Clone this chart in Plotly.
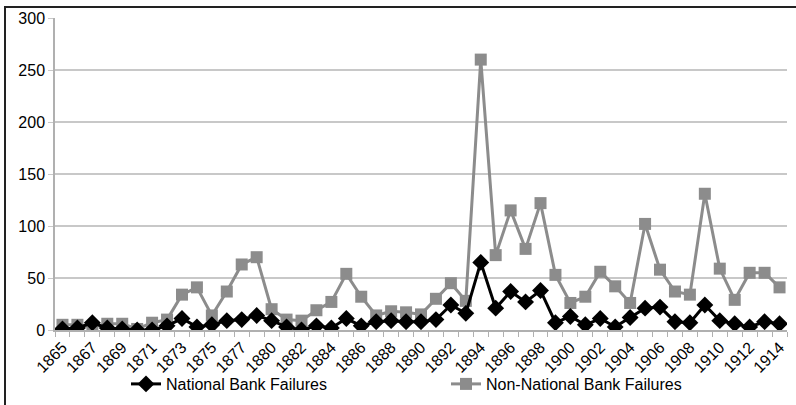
import plotly.graph_objects as go

years = [str(y) for y in range(1865, 1879)] + [str(y) for y in range(1880, 1915)]
national = [1, 2, 7, 2, 1, 0, 0, 4, 11, 3, 5, 9, 10, 14,
            9, 3, 0, 4, 2, 11, 4, 8, 9, 8, 8, 10, 24, 16, 65, 21, 37, 27, 38, 7, 13,
            5, 11, 3, 12, 21, 22, 8, 7, 24, 9, 6, 3, 8, 6]
non_national = [5, 5, 3, 6, 6, 1, 7, 10, 34, 41, 14, 37, 63, 70,
                20, 10, 9, 19, 27, 54, 32, 14, 18, 17, 15, 30, 45, 28, 260, 72, 115, 78, 122, 53, 26,
                32, 56, 42, 26, 102, 58, 37, 34, 131, 59, 29, 55, 55, 41]
y_ticks = [0, 50, 100, 150, 200, 250, 300]

idx = list(range(len(years)))
FONT = "Liberation Sans, Arial, sans-serif"
GRAY = "#8c8c8c"

fig = go.Figure()
fig.add_trace(go.Scatter(
    x=idx, y=non_national, name="Non-National Bank Failures", mode="lines+markers",
    line=dict(color=GRAY, width=3), marker=dict(symbol="square", size=12, color=GRAY),
    legend="legend2"))
fig.add_trace(go.Scatter(
    x=idx, y=national, name="National Bank Failures", mode="lines+markers",
    line=dict(color="#000000", width=3), marker=dict(symbol="diamond", size=13, color="#000000"),
    legend="legend"))

L, R, T, B = 55, 9, 18, 75
W, H = 796, 405
pw, ph = W - L - R, H - T - B

def px_x(p):
    return (p - L) / pw

def px_y(p):
    return (H - B - p) / ph

fig.update_layout(
    width=W, height=H,
    margin=dict(l=L, r=R, t=T, b=B, autoexpand=False),
    paper_bgcolor="white", plot_bgcolor="white",
    font=dict(family=FONT, size=16, color="#000000"),
    showlegend=True,
    legend=dict(orientation="h", xref="container", yref="container",
                x=126 / W, y=(H - 367) / H, xanchor="left", yanchor="top",
                font=dict(size=16), bgcolor="rgba(0,0,0,0)", itemwidth=30),
    legend2=dict(orientation="h", xref="container", yref="container",
                 x=446 / W, y=(H - 367) / H, xanchor="left", yanchor="top",
                 font=dict(size=16), bgcolor="rgba(0,0,0,0)", itemwidth=30),
    xaxis=dict(
        range=[-0.5, len(years) - 0.5], automargin=False,
        tickmode="array", tickvals=idx[::2], ticktext=years[::2],
        tickangle=-45, ticks="", showgrid=False, zeroline=False,
        showline=True, linecolor="#b0b0b0", linewidth=1.5,
        tickfont=dict(size=16),
        minor=dict(ticks="outside", tick0=-0.5, dtick=1, ticklen=5,
                   tickcolor="#b0b0b0", tickwidth=1, showgrid=False),
    ),
    yaxis=dict(
        range=[0, 300], tickmode="array", tickvals=y_ticks, automargin=False,
        showgrid=True, gridcolor="#c8c8c8", gridwidth=1.5,
        zeroline=False, showline=True, linecolor="#b0b0b0", linewidth=1.5,
        ticks="outside", ticklen=5, tickcolor="#c8c8c8",
        tickfont=dict(size=16),
    ),
    shapes=[dict(type="rect", xref="paper", yref="paper",
                 x0=px_x(5), x1=px_x(805), y0=px_y(415), y1=px_y(7),
                 line=dict(color="#222222", width=2), layer="above")],
)

fig.write_html("out.html")
